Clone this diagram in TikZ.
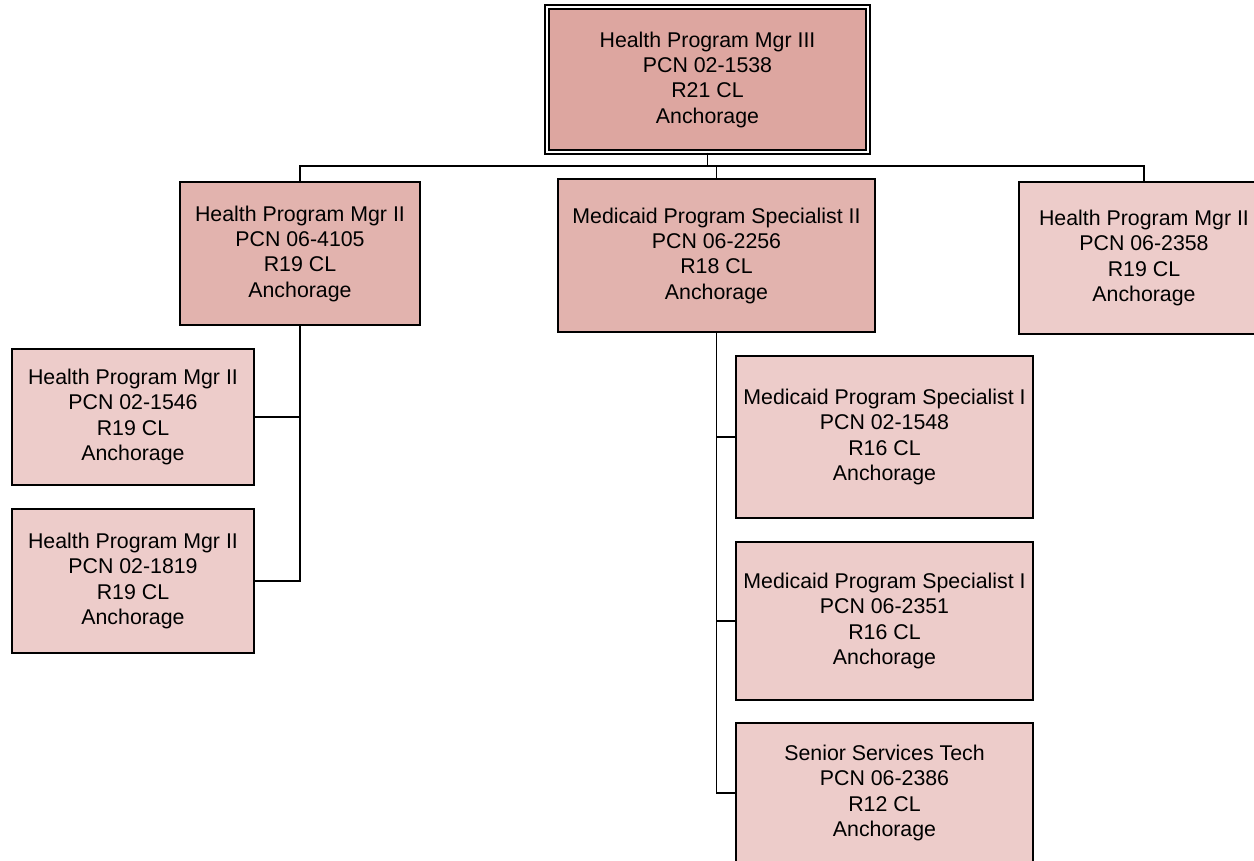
\documentclass[tikz,border=0pt]{standalone}
\usepackage{fontspec}
\setmainfont{Liberation Sans}
\definecolor{topfill}{RGB}{221,166,160}
\definecolor{midfill}{RGB}{226,179,174}
\definecolor{lowfill}{RGB}{237,204,202}
\tikzset{
  posbox/.style={draw=black, line width=1.2pt, align=center, inner sep=0.75pt,
    font=\fontsize{16}{19}\selectfont},
  line/.style={draw=black, line width=1.3pt}
}
\begin{document}
\begin{tikzpicture}[x=0.75pt, y=-0.75pt]
\useasboundingbox (0, 0) rectangle (1254, 861);
%Boxes
\node (top) [posbox, fill=topfill, double, double distance=2.2pt, line width=1pt, minimum width=240.75pt, minimum height=108.75pt] at (707.5, 79.5) {Health Program Mgr III\\PCN 02-1538\\R21 CL\\Anchorage};
\node (mgrA) [posbox, fill=midfill, minimum width=180pt, minimum height=107pt] at (300, 253.5) {Health Program Mgr II\\PCN 06-4105\\R19 CL\\Anchorage};
\node (specB) [posbox, fill=midfill, minimum width=237.75pt, minimum height=114.75pt] at (716.5, 255.5) {Medicaid Program Specialist II\\PCN 06-2256\\R18 CL\\Anchorage};
\node (mgrC) [posbox, fill=lowfill, minimum width=187.5pt, minimum height=114pt] at (1144, 258) {Health Program Mgr II\\PCN 06-2358\\R19 CL\\Anchorage};
\node (mgrD) [posbox, fill=lowfill, minimum width=181.5pt, minimum height=102pt] at (133, 417) {Health Program Mgr II\\PCN 02-1546\\R19 CL\\Anchorage};
\node (mgrE) [posbox, fill=lowfill, minimum width=181.5pt, minimum height=108pt] at (133, 581) {Health Program Mgr II\\PCN 02-1819\\R19 CL\\Anchorage};
\node (specF) [posbox, fill=lowfill, minimum width=222.75pt, minimum height=121.5pt] at (884.5, 437) {Medicaid Program Specialist I\\PCN 02-1548\\R16 CL\\Anchorage};
\node (specG) [posbox, fill=lowfill, minimum width=222.75pt, minimum height=118.5pt] at (884.5, 621) {Medicaid Program Specialist I\\PCN 06-2351\\R16 CL\\Anchorage};
\node (techH) [posbox, fill=lowfill, minimum width=222.75pt, minimum height=105pt] at (884.5, 793) {Senior Services Tech\\PCN 06-2386\\R12 CL\\Anchorage};
%Connectors
\coordinate (bus) at (0, 166);
\draw [line] (top.south) -- (top.south |- bus);
\draw [line] (mgrA.north) -- (mgrA.north |- bus) -- (mgrC.north |- bus) -- (mgrC.north);
\draw [line] (specB.north) -- (specB.north |- bus);
\draw [line] (mgrA.south) -- (mgrA.south |- mgrE.east) -- (mgrE.east);
\draw [line] (mgrD.east) -- (mgrD.east -| mgrA.south);
\draw [line] (specB.south) -- (specB.south |- techH.west) -- (techH.west);
\draw [line] (specF.west) -- (specF.west -| specB.south);
\draw [line] (specG.west) -- (specG.west -| specB.south);
\end{tikzpicture}
\end{document}
